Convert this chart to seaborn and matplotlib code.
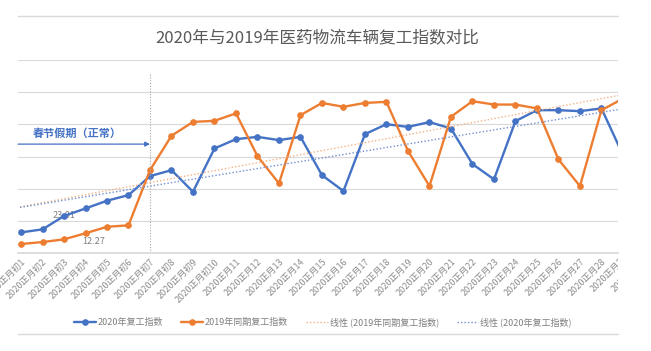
import numpy as np
import pandas as pd
import seaborn as sns
import matplotlib.pyplot as plt
from matplotlib.lines import Line2D
from matplotlib.transforms import Bbox, TransformedBbox, blended_transform_factory

# day labels (正月初1 .. 正月30)
day_labels = ["2020正月初%d" % d for d in range(1, 11)] + ["2020正月%d" % d for d in range(11, 31)]

# 2020年复工指数
idx_2020 = [12.8, 14.7, 23.01, 27.7, 32.5, 36.0, 47.8, 51.5, 38.1, 65.0,
            70.8, 72.2, 70.2, 72.2, 48.4, 38.5, 73.9, 80.1, 78.4, 81.4,
            77.4, 55.3, 45.8, 82.0, 88.8, 88.8, 88.2, 89.9, 61.0]
# 2019年同期复工指数
idx_2019 = [5.6, 6.8, 8.5, 12.27, 16.3, 17.2, 51.5, 72.9, 81.5, 82.2,
            86.8, 60.2, 43.3, 85.7, 93.3, 90.9, 93.3, 94.0, 63.5, 41.6,
            84.7, 94.4, 92.3, 92.3, 89.9, 58.2, 41.6, 88.8, 96.0]

BLUE = "#4472C4"
ORANGE = "#ED7D31"
GRAY = "#595959"

sns.set_theme(style="white")
plt.rcParams["font.family"] = ["Noto Sans CJK SC", "DejaVu Sans"]
plt.rcParams["axes.unicode_minus"] = False

W, H = 651, 351
fig = plt.figure(figsize=(W / 100, H / 100), dpi=100)
ax = fig.add_axes([18 / W, (H - 253) / H, 600 / W, 193 / H])

df = pd.DataFrame({"day": np.arange(len(idx_2020)), "y2020": idx_2020, "y2019": idx_2019})

sns.lineplot(data=df, x="day", y="y2020", ax=ax, color=BLUE, lw=1.7, marker="o",
             markersize=4, markeredgecolor=BLUE, label="2020年复工指数")
sns.lineplot(data=df, x="day", y="y2019", ax=ax, color=ORANGE, lw=1.7, marker="o",
             markersize=4, markeredgecolor=ORANGE, label="2019年同期复工指数")

# linear trend lines
xs = np.array([-1, len(day_labels)])
k19, b19 = np.polyfit(df["day"], df["y2019"], 1)
k20, b20 = np.polyfit(df["day"], df["y2020"], 1)
ax.plot(xs, k19 * xs + b19, ls=(0, (1, 1.5)), lw=1.0, color="#F4B183", label="线性 (2019年同期复工指数)")
ax.plot(xs, k20 * xs + b20, ls=(0, (1, 1.5)), lw=1.0, color="#6F8FCF", label="线性 (2020年复工指数)")

# data labels
ax.annotate("23.01", (2, idx_2020[2]), xytext=(0, 0), textcoords="offset points",
            ha="center", va="center", fontsize=6.5, color="#7f7f7f", zorder=1)
ax.annotate("12.27", (3, idx_2019[3]), xytext=(6, -6), textcoords="offset points",
            ha="center", va="center", fontsize=6.5, color="#7f7f7f")

# spring festival marker
ax.axvline(6, ymin=0, ymax=112 / 120, color="#a6a6a6", ls=(0, (1, 1.5)), lw=0.8)
ax.annotate("", xy=(6, 67.7), xytext=(-0.14, 67.7),
            arrowprops=dict(arrowstyle="-|>", color=BLUE, lw=0.9, mutation_scale=7,
                            shrinkA=0, shrinkB=0))
ax.text(2.6, 74.5, "春节假期（正常）", color=BLUE, fontsize=8, fontweight="bold",
        ha="center", va="center")

ax.set_xlim(-0.14, 27.77)
ax.set_ylim(0, 120)
ax.set_yticks(range(0, 121, 20))
ax.set_yticklabels([])
ax.grid(axis="y", color="#d9d9d9", lw=0.8)
ax.set_xticks(range(28))
ax.set_xticklabels(day_labels[:28], rotation=45, ha="right", rotation_mode="anchor",
                   fontsize=6.5, color="#8c8c8c")
ax.tick_params(axis="both", length=0, pad=3)
for s in ["top", "right", "left"]:
    ax.spines[s].set_visible(False)
ax.spines["bottom"].set_color("#d9d9d9")
ax.set_xlabel("")
ax.set_ylabel("")

# tick labels of the days past the cropped right edge
clip = TransformedBbox(Bbox([[0, 0], [618 / W, 1]]), fig.transFigure)
trans = blended_transform_factory(ax.transData, ax.transAxes)
ref = ax.get_xticklabels()[0]
for i in range(28, len(day_labels)):
    t = fig.text(i, 0, day_labels[i], transform=trans, rotation=45, ha="right", va="top",
                 rotation_mode="anchor", fontsize=6.5, color="#8c8c8c")
    t.set_clip_box(clip)
    t.set_clip_on(True)

fig.text(317 / W, 1 - 38 / H, "2020年与2019年医药物流车辆复工指数对比", ha="center", va="center",
         fontsize=12, color=GRAY)

ax.legend(loc="center", bbox_to_anchor=(323 / W, 1 - 322 / H), bbox_transform=fig.transFigure,
          ncol=4, frameon=False, fontsize=6.5, labelcolor="#7f7f7f", handlelength=2.4,
          handletextpad=0.2, columnspacing=2.0, borderaxespad=0)

# frame lines of the chart box
for yy in (16, 334):
    fig.add_artist(Line2D([18 / W, 618 / W], [1 - yy / H, 1 - yy / H], color="#d9d9d9", lw=1.0))

fig.savefig("out.png", dpi=100)
